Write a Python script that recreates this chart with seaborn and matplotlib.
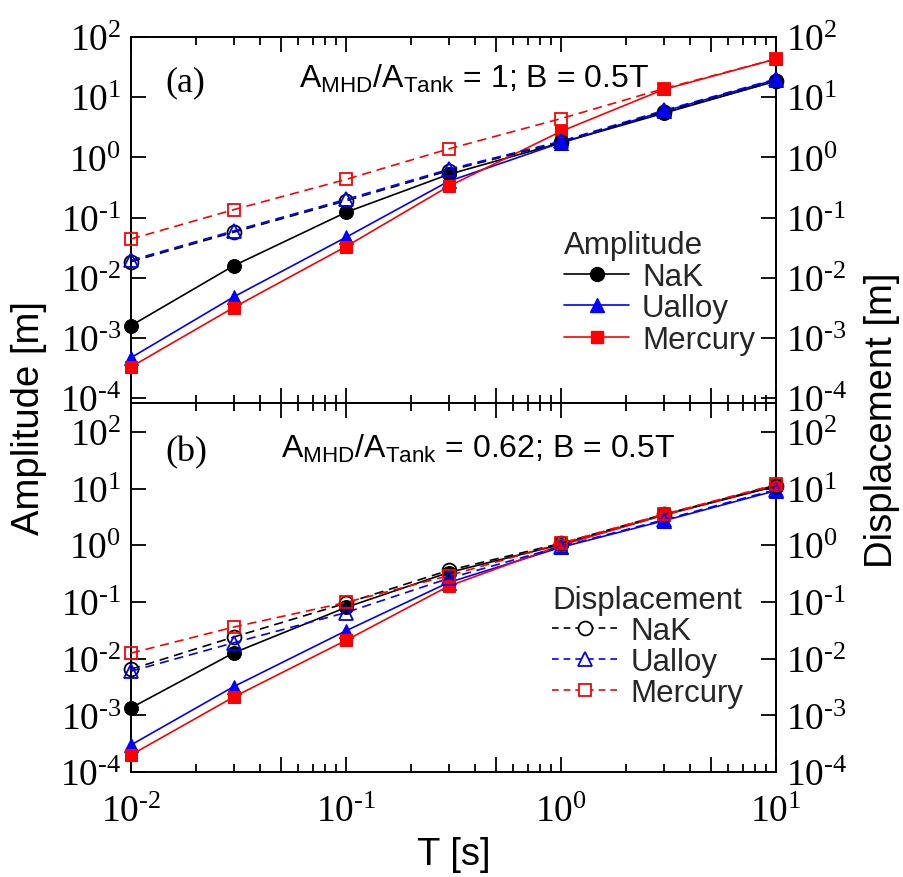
import matplotlib
matplotlib.use("Agg")
import matplotlib.pyplot as plt
import seaborn as sns
from matplotlib.lines import Line2D
from matplotlib.ticker import FixedLocator, NullFormatter, NullLocator

# Oscillation period [s]
T = [0.01, 0.03, 0.1, 0.3, 1, 3, 10]

liquids = ["NaK", "Ualloy", "Mercury"]

# (a) A_MHD/A_Tank = 1, B = 0.5 T
amp_a_nak = [1.6e-3, 0.0158, 0.122, 0.52, 1.75, 5.4, 18.5]
amp_a_ualloy = [4.7e-4, 4.8e-3, 0.047, 0.40, 1.75, 5.8, 19.5]
amp_a_mercury = [3.3e-4, 3.2e-3, 0.033, 0.33, 2.7, 13.4, 43.0]
disp_a_nak = [0.0185, 0.057, 0.19, 0.60, 1.8, 5.6, 18.5]
disp_a_ualloy = [0.0195, 0.060, 0.20, 0.63, 1.85, 6.0, 20.0]
disp_a_mercury = [0.044, 0.135, 0.43, 1.38, 4.4, 13.8, 43.0]

# (b) A_MHD/A_Tank = 0.62, B = 0.5 T
amp_b_nak = [1.35e-3, 0.0126, 0.080, 0.33, 1.03, 3.4, 11.0]
amp_b_ualloy = [3.0e-4, 3.2e-3, 0.031, 0.22, 0.92, 2.7, 9.2]
amp_b_mercury = [2.0e-4, 2.1e-3, 0.021, 0.19, 1.0, 3.4, 11.5]
disp_b_nak = [6.5e-3, 0.024, 0.095, 0.36, 1.08, 3.5, 11.3]
disp_b_ualloy = [6.0e-3, 0.019, 0.065, 0.26, 0.95, 2.8, 9.6]
disp_b_mercury = [0.0125, 0.036, 0.098, 0.29, 1.08, 3.5, 11.8]

panel_tags = ["(a)", "(b)"]
panel_titles = [r"A$_{\mathregular{MHD}}$/A$_{\mathregular{Tank}}$ = 1; B = 0.5T",
                r"A$_{\mathregular{MHD}}$/A$_{\mathregular{Tank}}$ = 0.62; B = 0.5T"]

HY = "\u2010"  # short hyphen for negative exponents
x_major = [0.01, 0.05, 0.1, 0.5, 1, 5, 10]
x_major_labels = [r"$\mathregular{10^{%s2}}$" % HY, "", r"$\mathregular{10^{%s1}}$" % HY, "",
                  r"$\mathregular{10^{0}}$", "", r"$\mathregular{10^{1}}$"]
x_minor = [0.02, 0.03, 0.04, 0.06, 0.07, 0.08, 0.09,
           0.2, 0.3, 0.4, 0.6, 0.7, 0.8, 0.9,
           2, 3, 4, 6, 7, 8, 9]
y_major = [1e-4, 1e-3, 1e-2, 1e-1, 1, 10, 100]
y_major_labels = [r"$\mathregular{10^{%s4}}$" % HY, r"$\mathregular{10^{%s3}}$" % HY,
                  r"$\mathregular{10^{%s2}}$" % HY, r"$\mathregular{10^{%s1}}$" % HY,
                  r"$\mathregular{10^{0}}$", r"$\mathregular{10^{1}}$",
                  r"$\mathregular{10^{2}}$"]

colors = ["black", "blue", "red"]
markers = ["o", "^", "s"]
msizes = [10, 10, 9]
dash = (0, (5.5, 3.5))

sns.set_theme(style="ticks")
plt.rcParams["font.family"] = ["Liberation Sans", "DejaVu Sans"]
plt.rcParams["axes.linewidth"] = 1.4

fig = plt.figure(figsize=(9.04, 8.78), dpi=100)
ax_a = fig.add_axes([0.1449, 0.5399, 0.7135, 0.4169])
ax_b = fig.add_axes([0.1449, 0.1196, 0.7135, 0.4203])

panels = [
    (ax_a, [amp_a_nak, amp_a_ualloy, amp_a_mercury],
     [disp_a_nak, disp_a_ualloy, disp_a_mercury], (10 ** -4.08, 100)),
    (ax_b, [amp_b_nak, amp_b_ualloy, amp_b_mercury],
     [disp_b_nak, disp_b_ualloy, disp_b_mercury], (1e-4, 10 ** 2.51)),
]

for i, (ax, amps, disps, ylim) in enumerate(panels):
    for vals, c, m, ms in zip(amps, colors, markers, msizes):
        sns.lineplot(x=T, y=vals, ax=ax, color=c, marker=m, markersize=ms,
                     markeredgecolor=c, markerfacecolor=c, linewidth=1.2,
                     linestyle="-", clip_on=False, zorder=3)
    for vals, c, m, ms in zip(disps, colors, markers, msizes):
        sns.lineplot(x=T, y=vals, ax=ax, color=c, marker=m, markersize=ms,
                     markeredgecolor=c, markerfacecolor="none",
                     markeredgewidth=1.3, linewidth=1.2, linestyle=dash,
                     clip_on=False, zorder=3)
    ax.set_xscale("log")
    ax.set_yscale("log")
    ax.set_xlim(0.01, 10)
    ax.set_ylim(*ylim)
    ax.set_xticks(x_major, labels=x_major_labels)
    ax.xaxis.set_minor_locator(FixedLocator(x_minor))
    ax.xaxis.set_minor_formatter(NullFormatter())
    ax.set_yticks(y_major, labels=y_major_labels)
    ax.yaxis.set_minor_locator(NullLocator())
    ax.tick_params(which="both", direction="in", top=True, right=True,
                   width=1.3, color="black")
    ax.tick_params(which="major", length=11)
    ax.tick_params(which="minor", length=6)
    ax.tick_params(axis="y", labelleft=True, labelright=True, pad=7,
                   labelsize=27, labelfontfamily="Liberation Serif",
                   labelcolor="black")
    ax.tick_params(axis="x", labelsize=27, labelfontfamily="Liberation Serif",
                   pad=16, labelcolor="black")
    ax.set_xlabel("")
    ax.set_ylabel("")
    for s in ax.spines.values():
        s.set_color("black")
        s.set_linewidth(1.4)
    ax.text(0.053, 0.877 if i == 0 else 0.868, panel_tags[i],
            transform=ax.transAxes, ha="left", va="center",
            fontsize=26, family="Liberation Serif", color="black")
    ax.text(0.26 if i == 0 else 0.232, 0.863 if i == 0 else 0.854,
            panel_titles[i], transform=ax.transAxes, ha="left",
            va="baseline", fontsize=23, color="black")

ax_a.tick_params(axis="x", labelbottom=False)

# Legends: filled markers / solid lines for amplitude, open markers / dashed for displacement
amp_handles = [Line2D([], [], color=c, marker=m, markersize=ms, markerfacecolor=c,
                      linewidth=1.2) for c, m, ms in zip(colors, markers, msizes)]
disp_handles = [Line2D([], [], color=c, marker=m, markersize=ms, markerfacecolor="white",
                       markeredgewidth=1.3, linewidth=1.2, linestyle=(0, (4, 3)))
                for c, m, ms in zip(colors, markers, msizes)]

leg_a = ax_a.legend(amp_handles, liquids, title="Amplitude", loc="upper left",
                    bbox_to_anchor=(0.671, 0.472), frameon=False, fontsize=22.5,
                    title_fontsize=22.5, borderpad=0, borderaxespad=0,
                    handlelength=2.1, handletextpad=0.4, labelspacing=0.05,
                    alignment="left")
leg_b = ax_b.legend(disp_handles, liquids, title="Displacement", loc="upper left",
                    bbox_to_anchor=(0.653, 0.507), frameon=False, fontsize=22.5,
                    title_fontsize=22.5, borderpad=0, borderaxespad=0,
                    handlelength=2.1, handletextpad=0.4, labelspacing=0.03,
                    alignment="left")

fig.text(29 / 904, 1 - 418 / 878, "Amplitude [m]", rotation=90, ha="center",
         va="center", fontsize=27.5, color="black")
fig.text(882 / 904, 1 - 420 / 878, "Displacement [m]", rotation=90, ha="center",
         va="center", fontsize=27.5, color="black")
fig.text(454 / 904, 1 - 855 / 878, "T [s]", ha="center", va="center",
         fontsize=27.5, color="black")

fig.savefig("out.png", dpi=100, facecolor="white")
